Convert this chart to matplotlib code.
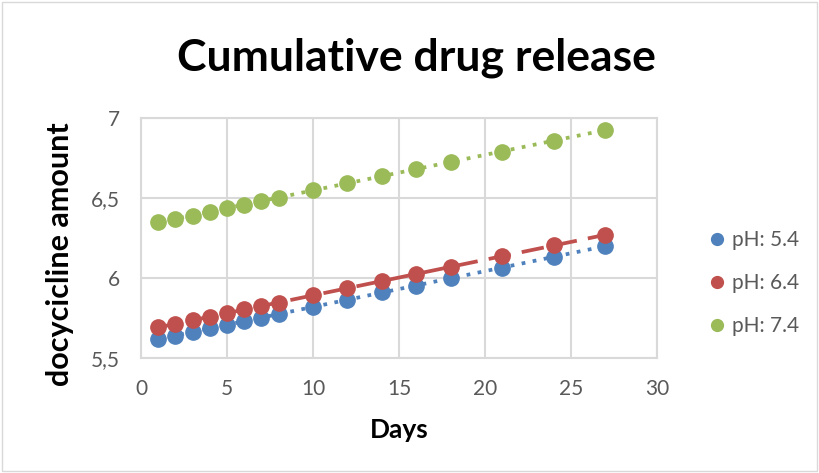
import numpy as np
import matplotlib.pyplot as plt
from matplotlib.lines import Line2D

# data
days = [1, 2, 3, 4, 5, 6, 7, 8, 10, 12, 14, 16, 18, 21, 24, 27]
ph54 = [5.617, 5.64, 5.664, 5.685, 5.706, 5.731, 5.752, 5.775,
        5.82, 5.862, 5.91, 5.952, 5.998, 6.064, 6.133, 6.20]
ph64 = [5.692, 5.712, 5.737, 5.758, 5.779, 5.804, 5.825, 5.846,
        5.894, 5.935, 5.98, 6.023, 6.069, 6.137, 6.206, 6.269]
ph74 = [6.352, 6.37, 6.39, 6.414, 6.435, 6.456, 6.48, 6.50,
        6.55, 6.596, 6.637, 6.679, 6.727, 6.79, 6.858, 6.925]
labels = ["pH: 5.4", "pH: 6.4", "pH: 7.4"]
colors = ["#4f81bd", "#c0504d", "#9bbb59"]
styles = [(0, (1, 2)), (0, (6, 3)), (0, (1, 2))]

plt.rcParams['font.family'] = ['Lato', 'DejaVu Sans']

fig = plt.figure(figsize=(8.2, 4.73), dpi=100)
ax = fig.add_axes([141 / 820, 1 - 358 / 473, 516 / 820, 240 / 473])

x = np.array(days)
handles = []
for y, c, ls, lab in zip([ph54, ph64, ph74], colors, styles, labels):
    ax.plot(days, y, 'o', color=c, ms=11, zorder=3)
    # linear trendline like Excel
    k, b = np.polyfit(x, y, 1)
    ax.plot(x, k * x + b, color=c, lw=2.7, linestyle=ls, zorder=2)
    handles.append(Line2D([], [], marker='o', ls='', color=c, ms=8.5))

ax.set_xlim(0, 30)
ax.set_ylim(5.5, 7)
ax.set_xticks(range(0, 31, 5))
ax.set_yticks([5.5, 6, 6.5, 7])
ax.set_yticklabels(["5,5", "6", "6,5", "7"])
ax.grid(True, color="#d9d9d9", lw=1.5)
ax.set_axisbelow(True)
for s in ax.spines.values():
    s.set_color("#d9d9d9")
    s.set_linewidth(1.5)
ax.tick_params(length=0, labelsize=15, colors="#595959", pad=15)

fig.text(399 / 820, 1 - 430 / 473, "Days", ha='center', va='center',
         fontsize=19, fontweight='bold')
fig.text(60 / 820, 1 - 254 / 473, "docycicline amount", ha='center', va='center',
         rotation=90, fontsize=22, fontweight='bold')
fig.text(416 / 820, 1 - 58 / 473, "Cumulative drug release", ha='center',
         va='center', fontsize=32, fontweight='bold')

fig.legend(handles, labels, loc='center left', bbox_to_anchor=(696 / 820, 1 - 283 / 473),
           frameon=False, fontsize=15, labelcolor="#595959", handletextpad=0.13,
           labelspacing=1.1, handlelength=1.2, borderaxespad=0)

# outer chart border
fig.add_artist(plt.Rectangle((0.002, 0.004), 0.994, 0.992, transform=fig.transFigure,
                             fill=False, ec="#d9d9d9", lw=1))

plt.savefig("out.png", dpi=100)
